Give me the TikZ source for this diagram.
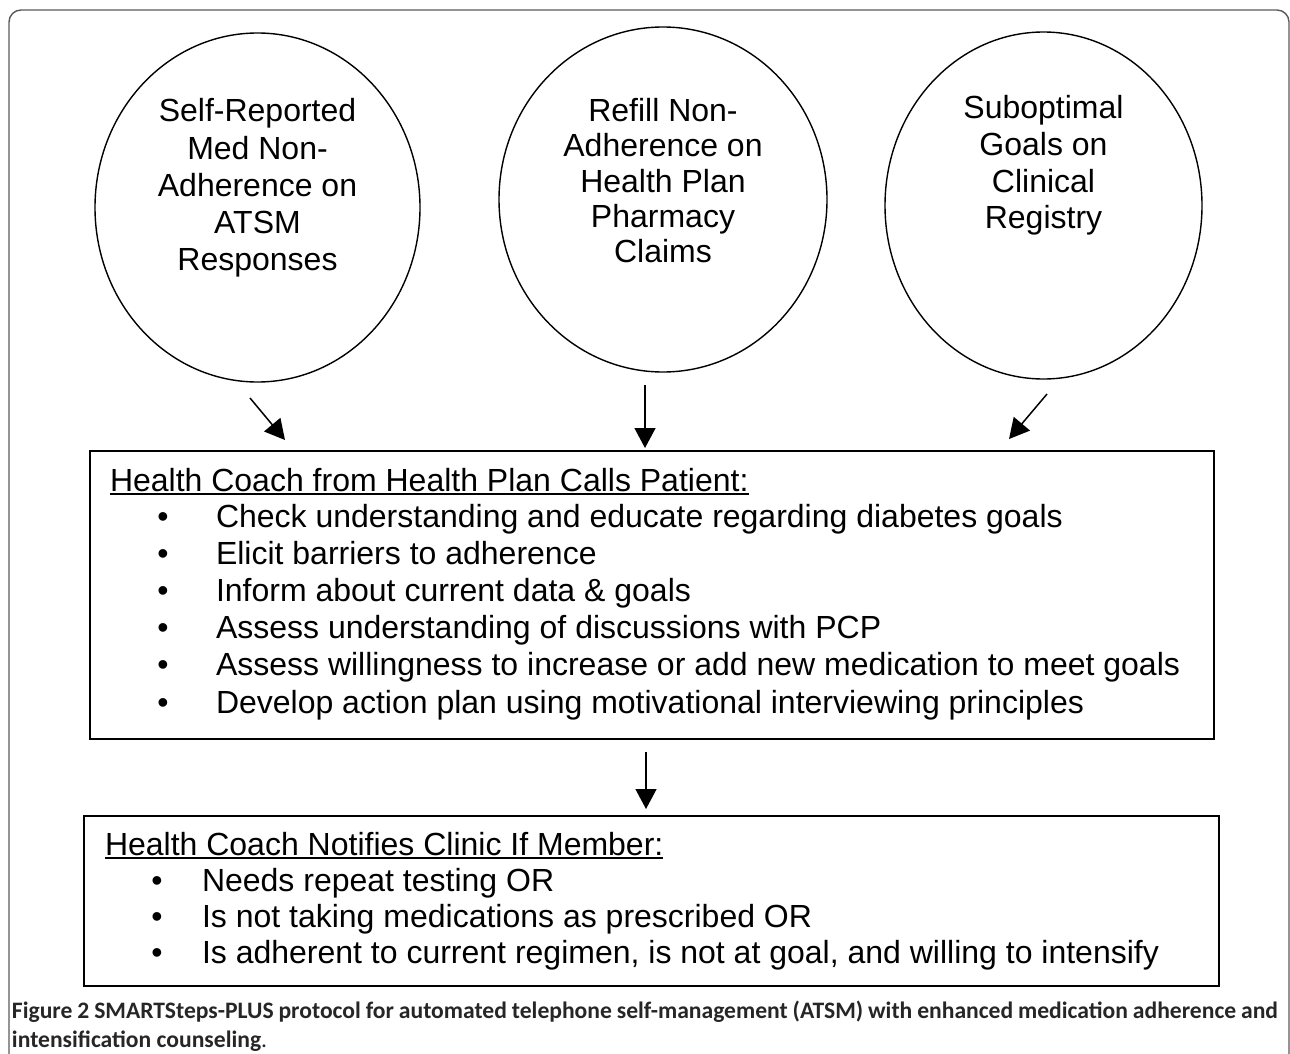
\documentclass[tikz,border=0pt]{standalone}
\usepackage{fontspec}
\setmainfont{Liberation Sans}
\newfontfamily\capfont{Carlito}
\usetikzlibrary{arrows.meta,shapes.geometric}
\definecolor{framegray}{HTML}{5A5A5A}
\definecolor{capgray}{HTML}{262626}
\begin{document}
\begin{tikzpicture}[x=1pt,y=-1pt,
  every node/.style={inner sep=0pt,outer sep=0pt},
  bubble/.style={draw,ellipse,line width=1.4pt},
  panel/.style={draw,rectangle,line width=1.8pt},
  txt/.style={font=\fontsize{32}{37}\selectfont,anchor=base},
  ltxt/.style={font=\fontsize{32}{37}\selectfont,anchor=base west},
  flow/.style={line width=1.5pt,-{Triangle[length=20pt,width=21pt]}},
  captext/.style={font=\capfont\fontsize{23.6}{30}\selectfont,text=capgray,anchor=base west},
]
\useasboundingbox (0,0) rectangle (1290,1054);
\begin{scope}
  \clip (0,0) rectangle (1290,1054);
  \draw[framegray,line width=1.4pt,rounded corners=12pt] (9,1080) -- (9,10) -- (1289,10) -- (1289,1080);
\end{scope}

% source ellipses
\node[bubble,minimum width=325pt,minimum height=349pt] (c1) at (257.5,207.5) {};
\node[bubble,minimum width=328pt,minimum height=345pt] (c2) at (663,199.5) {};
\node[bubble,minimum width=317pt,minimum height=347pt] (c3) at (1043.5,205.5) {};

\foreach \t [count=\i] in {Self-Reported,Med Non-,Adherence on,ATSM,Responses}
  \node[txt] (c1l\i) at (257.5,{122+37*(\i-1)}) {\t};
\foreach \t [count=\i] in {Refill Non-,Adherence on,Health Plan,Pharmacy,Claims}
  \node[txt] (c2l\i) at (663,{122+35*(\i-1)}) {\t};
\foreach \t [count=\i] in {Suboptimal,Goals on,Clinical,Registry}
  \node[txt] (c3l\i) at (1043.5,{119+36.5*(\i-1)}) {\t};

% box 1
\node[panel,minimum width=1124pt,minimum height=288pt] (b1) at (652,595) {};
\node[ltxt] (h1) at (110,491) {Health Coach from Health Plan Calls Patient:};
\draw[line width=1.3pt] ([yshift=-3pt]h1.base west) -- ([yshift=-3pt]h1.base east);
\foreach \t [count=\i] in {Check understanding and educate regarding diabetes goals,
  Elicit barriers to adherence,
  Inform about current data \& goals,
  Assess understanding of discussions with PCP,
  Assess willingness to increase or add new medication to meet goals,
  Develop action plan using motivational interviewing principles}
{
  \node[txt] (b1d\i) at (163,{527+37.2*(\i-1)}) {\textbullet};
  \node[ltxt] (b1t\i) at (216,{527+37.2*(\i-1)}) {\t};
}

% box 2
\node[panel,minimum width=1135pt,minimum height=170pt] (b2) at (651.5,901) {};
\node[ltxt] (h2) at (105,855) {Health Coach Notifies Clinic If Member:};
\draw[line width=1.3pt] ([yshift=-3pt]h2.base west) -- ([yshift=-3pt]h2.base east);
\foreach \t [count=\i] in {Needs repeat testing OR,
  Is not taking medications as prescribed OR,
  {Is adherent to current regimen, is not at goal, and willing to intensify}}
{
  \node[txt] (b2d\i) at (157,{891+36*(\i-1)}) {\textbullet};
  \node[ltxt] (b2t\i) at (202,{891+36*(\i-1)}) {\t};
}

% connectors
\coordinate (a1s) at (250,398);  \coordinate (a1e) at (285,440);
\coordinate (a2s) at (645,385);  \coordinate (a2e) at (645,448);
\coordinate (a3s) at (1047,394); \coordinate (a3e) at (1009,439);
\coordinate (a4s) at (646,752);  \coordinate (a4e) at (646,809);
\draw[flow] (a1s) -- (a1e);
\draw[flow] (a2s) -- (a2e);
\draw[flow] (a3s) -- (a3e);
\draw[flow] (a4s) -- (a4e);

% caption
\node[captext] (cap1) at (12,1018) {\makebox[1266pt][s]{\bfseries Figure 2 SMARTSteps-PLUS protocol for automated telephone self-management (ATSM) with enhanced medication adherence and}};
\node[captext] (cap2) at (12,1047) {\bfseries intensification counseling\mdseries .};
\end{tikzpicture}
\end{document}
